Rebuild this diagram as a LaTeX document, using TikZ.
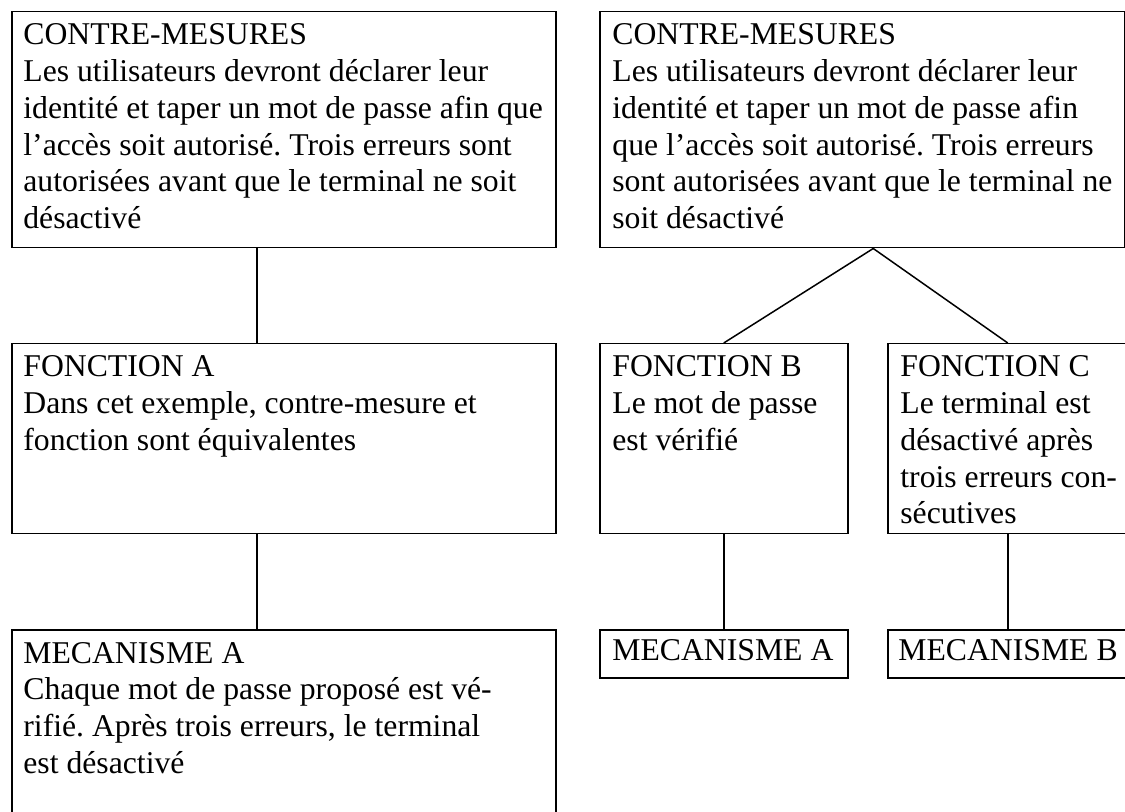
\documentclass[tikz,border=0pt]{standalone}
\usepackage{fontspec}
\setmainfont{Liberation Serif}
\frenchspacing
\newcommand\blocTexte[1]{\parbox[t]{290pt}{\raggedright #1}}
\begin{document}
\begin{tikzpicture}[x=0.5pt,y=-0.5pt,
  boite/.style={draw=black, line width=0.75pt, rectangle, inner sep=0pt, anchor=north west},
  texte/.style={inner sep=0pt, anchor=base west, font=\fontsize{15.85pt}{18.35pt}\selectfont},
  lien/.style={draw=black, line width=0.75pt}]
\useasboundingbox (0,0) rectangle (1125,812);
\clip (0,0) rectangle (1125,812);
% boxes
\node[boite, minimum width=272pt, minimum height=118pt] (cm1) at (11,11) {};
\node[boite, minimum width=262.5pt, minimum height=118pt] (cm2) at (599,11) {};
\node[boite, minimum width=272pt, minimum height=95pt] (fa) at (11,343) {};
\node[boite, minimum width=124pt, minimum height=95pt] (fb) at (599,343) {};
\node[boite, minimum width=120pt, minimum height=95pt] (fc) at (887,343) {};
\node[boite, minimum width=272pt, minimum height=100pt] (ma) at (11,629) {};
\node[boite, minimum width=124pt, minimum height=24pt] (mb1) at (599,629) {};
\node[boite, minimum width=120pt, minimum height=24pt] (mb2) at (887,629) {};
% texts
\node[texte] (t1) at (23,45) {\blocTexte{CONTRE-MESURES\\Les utilisateurs devront déclarer leur\\identité et taper un mot de passe afin que\\l’accès soit autorisé. Trois erreurs sont\\autorisées avant que le terminal ne soit\\désactivé}};
\node[texte] (t2) at (612,45) {\blocTexte{CONTRE-MESURES\\Les utilisateurs devront déclarer leur\\identité et taper un mot de passe afin\\que l’accès soit autorisé. Trois erreurs\\sont autorisées avant que le terminal ne\\soit désactivé}};
\node[texte] (t3) at (23,377) {\blocTexte{FONCTION A\\Dans cet exemple, contre-mesure et\\fonction sont équivalentes}};
\node[texte] (t4) at (612,377) {\blocTexte{FONCTION B\\Le mot de passe\\est vérifié}};
\node[texte] (t5) at (900,377) {\blocTexte{FONCTION C\\Le terminal est\\désactivé après\\trois erreurs con-\\sécutives}};
\node[texte] (t6) at (23,663) {\blocTexte{MECANISME A\\Chaque mot de passe proposé est vé-\\rifié. Après trois erreurs, le terminal\\est désactivé}};
\node[texte] (t7) at (612,661) {MECANISME A};
\node[texte] (t8) at (898,661) {MECANISME B};
% connectors
\coordinate (gx) at (257,0);
\draw[lien] (cm1.south -| gx) -- (fa.north -| gx);
\draw[lien] (fa.south -| gx) -- (ma.north -| gx);
\coordinate (sommet) at ([xshift=5.5pt]cm2.south);
\draw[lien] (fb.north) -- (sommet) -- (fc.north);
\draw[lien] (fb.south) -- (mb1.north);
\draw[lien] (fc.south) -- (mb2.north);
\end{tikzpicture}
\end{document}
